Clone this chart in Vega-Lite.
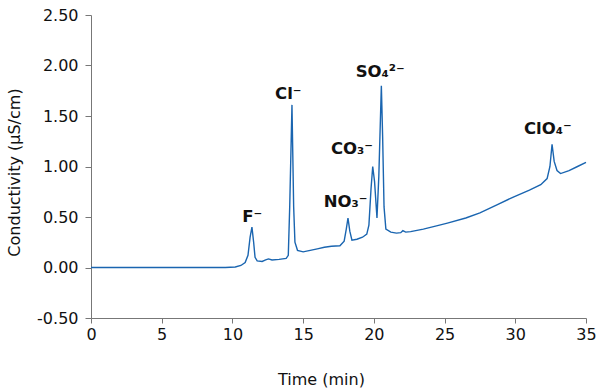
{
  "$schema": "https://vega.github.io/schema/vega-lite/v6.json",
  "width": 495,
  "height": 303,
  "autosize": {"type": "none"},
  "padding": {"left": 91, "top": 15, "right": 14, "bottom": 73},
  "background": "white",
  "config": {
    "view": {"stroke": null},
    "font": "DejaVu Sans",
    "axis": {
      "labelFont": "DejaVu Sans",
      "titleFont": "DejaVu Sans",
      "labelFontSize": 16,
      "titleFontSize": 16,
      "titleFontWeight": "normal",
      "labelColor": "#111",
      "titleColor": "#111",
      "domainColor": "#777",
      "tickColor": "#777",
      "labelFlush": false,
      "grid": false
    }
  },
  "datasets": {
    "trace": [
      {"t": 0, "v": 0}, {"t": 5, "v": 0}, {"t": 9.5, "v": 0}, {"t": 10.2, "v": 0.005},
      {"t": 10.6, "v": 0.02}, {"t": 10.9, "v": 0.05}, {"t": 11.1, "v": 0.12}, {"t": 11.25, "v": 0.3},
      {"t": 11.38, "v": 0.4}, {"t": 11.5, "v": 0.25}, {"t": 11.6, "v": 0.1}, {"t": 11.75, "v": 0.065},
      {"t": 12.1, "v": 0.06}, {"t": 12.35, "v": 0.075}, {"t": 12.55, "v": 0.085}, {"t": 12.8, "v": 0.075},
      {"t": 13.3, "v": 0.08}, {"t": 13.8, "v": 0.09}, {"t": 13.95, "v": 0.12}, {"t": 14.05, "v": 0.6},
      {"t": 14.21, "v": 1.61}, {"t": 14.33, "v": 0.6}, {"t": 14.42, "v": 0.25}, {"t": 14.6, "v": 0.17},
      {"t": 15.0, "v": 0.155}, {"t": 15.5, "v": 0.17}, {"t": 16.0, "v": 0.185}, {"t": 16.5, "v": 0.2},
      {"t": 17.0, "v": 0.21}, {"t": 17.6, "v": 0.215}, {"t": 17.9, "v": 0.26}, {"t": 18.05, "v": 0.38},
      {"t": 18.17, "v": 0.49}, {"t": 18.3, "v": 0.36}, {"t": 18.45, "v": 0.27}, {"t": 18.8, "v": 0.28},
      {"t": 19.2, "v": 0.3}, {"t": 19.5, "v": 0.33}, {"t": 19.65, "v": 0.42}, {"t": 19.8, "v": 0.78},
      {"t": 19.92, "v": 1.0}, {"t": 20.05, "v": 0.85}, {"t": 20.22, "v": 0.49}, {"t": 20.35, "v": 0.9},
      {"t": 20.53, "v": 1.8}, {"t": 20.62, "v": 1.3}, {"t": 20.72, "v": 0.6}, {"t": 20.85, "v": 0.38},
      {"t": 21.2, "v": 0.35}, {"t": 21.6, "v": 0.34}, {"t": 21.9, "v": 0.345}, {"t": 22.05, "v": 0.365},
      {"t": 22.25, "v": 0.35}, {"t": 22.6, "v": 0.355}, {"t": 23.5, "v": 0.38}, {"t": 24.5, "v": 0.415},
      {"t": 25.2, "v": 0.44}, {"t": 26.5, "v": 0.49}, {"t": 27.5, "v": 0.54}, {"t": 28.7, "v": 0.62},
      {"t": 29.9, "v": 0.7}, {"t": 31.0, "v": 0.765}, {"t": 31.8, "v": 0.82}, {"t": 32.25, "v": 0.88},
      {"t": 32.45, "v": 1.0}, {"t": 32.6, "v": 1.22}, {"t": 32.75, "v": 1.05}, {"t": 32.95, "v": 0.96},
      {"t": 33.2, "v": 0.93}, {"t": 33.8, "v": 0.96}, {"t": 34.4, "v": 1.0}, {"t": 35, "v": 1.04}
    ],
    "labels": [
      {"t": 11.4, "v": 0.5, "ion": "F⁻"},
      {"t": 13.95, "v": 1.72, "ion": "Cl⁻"},
      {"t": 18.0, "v": 0.65, "ion": "NO₃⁻"},
      {"t": 18.45, "v": 1.17, "ion": "CO₃⁻"},
      {"t": 20.45, "v": 1.94, "ion": "SO₄²⁻"},
      {"t": 32.3, "v": 1.37, "ion": "ClO₄⁻"}
    ]
  },
  "layer": [
    {
      "data": {"name": "trace"},
      "mark": {"type": "line", "color": "#1a65b0", "strokeWidth": 1.4},
      "encoding": {
        "x": {
          "field": "t", "type": "quantitative",
          "scale": {"domain": [0, 35], "nice": false},
          "axis": {"values": [0, 5, 10, 15, 20, 25, 30, 35], "title": "Time (min)", "labelPadding": 3,
                   "titleX": 230, "titleY": 61, "titleBaseline": "middle", "titleAnchor": "middle", "titleAlign": "center"}
        },
        "y": {
          "field": "v", "type": "quantitative",
          "scale": {"domain": [-0.5, 2.5], "nice": false, "zero": false},
          "axis": {"values": [-0.5, 0, 0.5, 1, 1.5, 2, 2.5], "format": ".2f",
                   "labelExpr": "replace(datum.label, '−', '-')",
                   "title": "Conductivity (µS/cm)",
                   "tickSize": 6, "labelPadding": 7,
                   "titleX": -77, "titleY": 157, "titleBaseline": "middle", "titleAngle": -90, "titleAlign": "center"}
        }
      }
    },
    {
      "data": {"name": "labels"},
      "mark": {"type": "text", "font": "DejaVu Sans", "fontSize": 16.5, "fontWeight": "bold", "color": "#111", "baseline": "middle", "align": "center"},
      "encoding": {
        "x": {"field": "t", "type": "quantitative"},
        "y": {"field": "v", "type": "quantitative"},
        "text": {"field": "ion"}
      }
    }
  ]
}
